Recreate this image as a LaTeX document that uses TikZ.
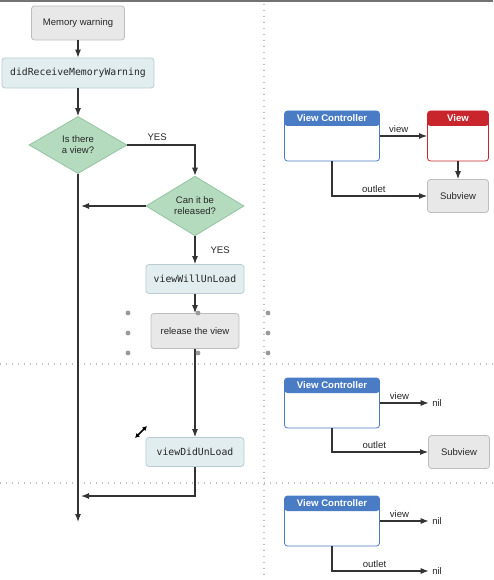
\documentclass[tikz,border=0pt]{standalone}
\usepackage{fontspec}
\setmainfont{Liberation Sans}
\setmonofont{DejaVu Sans Mono}
\usetikzlibrary{positioning,shapes.geometric,arrows.meta}
\definecolor{boxgrey}{HTML}{E8E8E8}
\definecolor{boxgreyline}{HTML}{BDBDBD}
\definecolor{methodfill}{HTML}{E1EDEF}
\definecolor{methodline}{HTML}{B9CDD1}
\definecolor{decfill}{HTML}{B5DBBF}
\definecolor{decline}{HTML}{94C3A1}
\definecolor{vcblue}{HTML}{4A7CC6}
\definecolor{viewred}{HTML}{C8262C}
\definecolor{arrgrey}{HTML}{333333}

\begin{document}
\begin{tikzpicture}[x=1pt,y=-1pt,
    every node/.style={font=\fontsize{9.5}{11}\selectfont, text=black!85},
    warnbox/.style={draw=boxgreyline, fill=boxgrey, rounded corners=3pt, line width=0.8pt},
    subbox/.style={warnbox, minimum width=61pt, minimum height=33pt},
    methodbox/.style={draw=methodline, fill=methodfill, rounded corners=3pt, line width=0.8pt,
        minimum width=98pt, minimum height=29pt, font=\ttfamily\fontsize{9.8}{11}\selectfont},
    decision/.style={diamond, draw=decline, fill=decfill, line width=0.8pt, align=center,
        inner sep=0pt, minimum width=98pt, minimum height=57pt},
    headtext/.style={anchor=north, inner sep=2pt, yshift=-1.5pt, text=white, draw=none, fill=none,
        font=\bfseries\fontsize{9.6}{10}\selectfont},
    headbox/.style 2 args={draw=#1, fill=white, rounded corners=3pt, line width=0.8pt,
        minimum width=95pt, minimum height=50pt,
        path picture={\fill[#1] (path picture bounding box.north west) rectangle
            ([yshift=-15pt]path picture bounding box.north east);},
        label={[headtext]north:#2}},
    arr/.style={draw=arrgrey, line width=1.1pt, -{Latex[length=8pt,width=6pt]}},
    lbl/.style={font=\fontsize{9.6}{10}\selectfont, inner sep=1pt},
    divider/.style={draw=black!25, line width=1.4pt, dash pattern=on 1.4pt off 4.6pt},
    handle/.style={fill=black!40},
    cursor/.style={draw=black, line width=1.5pt, {Latex[length=4.5pt,width=5pt]}-{Latex[length=4.5pt,width=5pt]}}]
\useasboundingbox (0,0) rectangle (493,580);
\fill[black!55] (0,0) rectangle (493,2);
\draw[divider] (264,4) -- (264,580);
\draw[divider] (0,364) -- (493,364);
\draw[divider] (0,483) -- (493,483);

\node[warnbox, minimum width=93pt, minimum height=34pt] (warn) at (78,23) {Memory warning};
\node[methodbox, minimum width=152pt, minimum height=30pt] (recv) at (78,73) {didReceiveMemoryWarning};
\node[decision] (isview) at (78,145) {Is there\\a view?};
\node[decision] (canrel) at (195,206) {Can it be\\released?};
\node[methodbox] (willunload) at (195,279) {viewWillUnLoad};
\node[warnbox, minimum width=88pt, minimum height=35pt] (release) at (195,331) {release the view};
\node[methodbox] (didunload) at (195,452) {viewDidUnLoad};
\coordinate (join1) at (81,206);
\coordinate (join2) at (81,496);
\coordinate (bottom) at (78,522);

\draw[arr] (warn) -- (recv);
\draw[arr] (recv) -- (isview);
\draw[arr] (isview.east) -| node[lbl, pos=0.22, above=3pt] {YES} (canrel.north);
\draw[arr] (canrel.west) -- (join1);
\draw[arr] (isview.south) -- (bottom);
\draw[arr] (canrel.south) -- node[lbl, right=14pt] {YES} (willunload.north);
\draw[arr] (willunload) -- (release);
\draw[arr] (release) -- (didunload);
\draw[arr] (didunload.south) |- (join2);

\foreach \hx/\hy in {128/313,198/313,268/313,128/333,268/333,128/353,198/353,268/353}
    \fill[handle] (\hx,\hy) circle (2.4pt);
\draw[cursor] (135,438) -- (147,426);

\node[headbox={vcblue}{View Controller}] (vc1) at (332,136) {};
\node[headbox={viewred}{View}, minimum width=61pt] (view1) at (458,136) {};
\node[subbox] (sub1) at (458,196) {Subview};
\draw[arr] (vc1) -- node[lbl, pos=0.4, above=2pt] {view} (view1);
\draw[arr] (view1) -- (sub1);
\draw[arr] (vc1.south) |- node[lbl, pos=0.72, above=2pt] {outlet} (sub1.west);

\node[headbox={vcblue}{View Controller}] (vc2) at (332,403) {};
\node (nil2) at (437,403) {nil};
\node[subbox] (sub2) at (459,452) {Subview};
\draw[arr] (vc2) -- node[lbl, pos=0.4, above=2pt] {view} (nil2);
\draw[arr] (vc2.south) |- node[lbl, pos=0.72, above=2pt] {outlet} (sub2.west);

\node[headbox={vcblue}{View Controller}] (vc3) at (332,521) {};
\node (nil3) at (437,521) {nil};
\node (nil4) at (437,571) {nil};
\draw[arr] (vc3) -- node[lbl, pos=0.4, above=2pt] {view} (nil3);
\draw[arr] (vc3.south) |- node[lbl, pos=0.72, above=2pt] {outlet} (nil4.west);
\end{tikzpicture}
\end{document}
